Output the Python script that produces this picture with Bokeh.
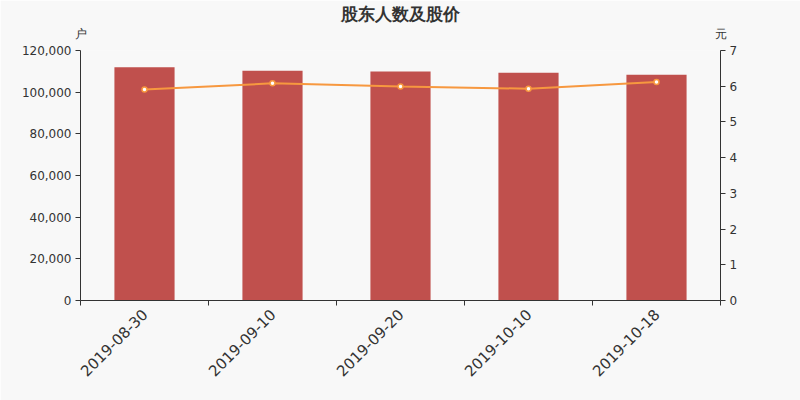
from bokeh.plotting import figure
from bokeh.models import (Range1d, LinearAxis, FixedTicker, NumeralTickFormatter,
                          ColumnDataSource)
from bokeh.embed import file_html
from bokeh.resources import INLINE
import math

title_text = "股东人数及股价"
left_unit = "户"
right_unit = "元"
dates = ["2019-08-30", "2019-09-10", "2019-09-20", "2019-10-10", "2019-10-18"]
holders = [111950, 110250, 109900, 109300, 108350]
prices = [5.91, 6.08, 5.99, 5.93, 6.12]
left_ticks = [0, 20000, 40000, 60000, 80000, 100000, 120000]
right_ticks = [0, 1, 2, 3, 4, 5, 6, 7]

BG = "#f8f8f8"
TXT = "#333333"
BAR = "#c0504d"
LINE = "#f7983f"

n = len(dates)
xs = [i + 0.5 for i in range(n)]
src = ColumnDataSource(dict(x=xs, h=holders, p=prices, d=dates))

p = figure(width=800, height=400, output_backend="svg", toolbar_location=None,
           x_range=Range1d(0, n), y_range=Range1d(0, 120000),
           min_border_left=80, min_border_right=80, min_border_top=50,
           min_border_bottom=100, background_fill_color=BG, border_fill_color=BG,
           outline_line_color=None)
p.title.visible = False
p.xgrid.visible = False
p.ygrid.visible = False
p.extra_y_ranges = {"price": Range1d(0, 7)}

p.vbar(x="x", top="h", width=0.47, source=src, fill_color=BAR, line_color=None)
p.line(x="x", y="p", source=src, y_range_name="price", line_color=LINE, line_width=2)
p.scatter(x="x", y="p", source=src, y_range_name="price", size=5,
          fill_color="white", line_color=LINE, line_width=1.5)

# bottom x axis
xa = p.below[0]
xa.ticker = FixedTicker(ticks=xs, minor_ticks=list(range(n + 1)))
xa.major_label_overrides = {x: d for x, d in zip(xs, dates)}
xa.major_label_orientation = math.pi / 4
xa.major_tick_out = 0
xa.major_tick_in = 0
xa.minor_tick_out = 5
xa.minor_tick_in = 0
xa.minor_tick_line_color = TXT
xa.axis_line_color = TXT
xa.major_label_text_color = TXT
xa.major_label_text_font = "DejaVu Sans"
xa.major_label_text_font_size = "15px"
xa.major_label_standoff = 6

# left axis
ya = p.left[0]
ya.ticker = FixedTicker(ticks=left_ticks)
ya.formatter = NumeralTickFormatter(format="0,0")
ya.major_tick_out = 5
ya.major_tick_in = 0
ya.minor_tick_line_color = None
ya.axis_line_color = TXT
ya.major_tick_line_color = TXT
ya.major_label_text_color = TXT
ya.major_label_text_font = "DejaVu Sans"
ya.major_label_text_font_size = "12px"
ya.major_label_standoff = 4

# right axis
ra = LinearAxis(y_range_name="price", ticker=FixedTicker(ticks=right_ticks))
ra.major_tick_out = 5
ra.major_tick_in = 0
ra.minor_tick_line_color = None
ra.axis_line_color = TXT
ra.major_tick_line_color = TXT
ra.major_label_text_color = TXT
ra.major_label_text_font = "DejaVu Sans"
ra.major_label_text_font_size = "12px"
ra.major_label_standoff = 4
p.add_layout(ra, "right")


def bare_axis(ticks, labels, font_size, standoff, bold=False):
    ax = LinearAxis(ticker=FixedTicker(ticks=ticks),
                    major_label_overrides=dict(zip(ticks, labels)))
    ax.axis_line_color = None
    ax.major_tick_line_color = None
    ax.minor_tick_line_color = None
    ax.major_tick_out = 0
    ax.major_tick_in = 0
    ax.major_label_standoff = standoff
    ax.major_label_text_color = TXT
    ax.major_label_text_font = "DejaVu Sans"
    ax.major_label_text_font_size = font_size
    if bold:
        ax.major_label_text_font_style = "bold"
    return ax


# unit names (nearest the frame) and the title, as bare axes above the frame
p.add_layout(bare_axis([0, n], [left_unit, right_unit], "12px", 10), "above")
p.add_layout(bare_axis([n / 2], [title_text], "17px", 0, bold=True), "above")

open("out.html", "w").write(file_html(p, INLINE))
